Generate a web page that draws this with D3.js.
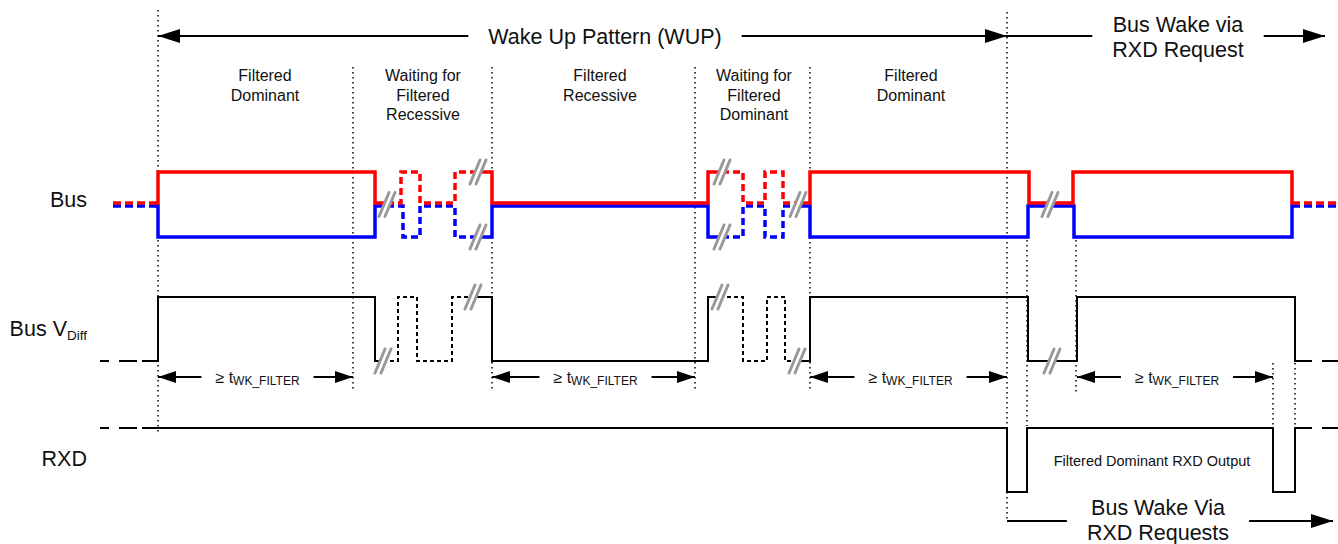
<!DOCTYPE html>
<html>
<head>
<meta charset="utf-8">
<script src="https://d3js.org/d3.v7.min.js"></script>
<style>
  body { margin: 0; background: #fff; }
  svg { display: block; font-family: Arial, "Liberation Sans", Helvetica, sans-serif; fill: #111; }
  .marker { stroke: #000; stroke-width: 1.5; stroke-dasharray: 1.5,3.5; fill: none; }
  .rule { stroke: #000; stroke-width: 2; fill: none; }
  .head { fill: #000; stroke: none; }
  .big { font-size: 21.5px; }
  .phase { font-size: 16px; }
</style>
</head>
<body>
<script>

// step waveforms: [time, level], each level holds until the next point
// kind: solid = real edge, hidden = filtered glitch (dashed), idle = before / after the pattern
var busRed = [
  {kind: "idle",   pts: [[113, 0], [158, 0]]},
  {kind: "solid",  pts: [[155, 0], [158, 1], [375, 0], [387, 0]]},
  {kind: "hidden", pts: [[387, 0], [401, 1], [420, 0], [455, 1], [478, 1]]},
  {kind: "solid",  pts: [[478, 1], [492, 0], [708, 1], [722, 1]]},
  {kind: "hidden", pts: [[722, 1], [743, 0], [765, 1], [783, 0], [798, 0]]},
  {kind: "solid",  pts: [[798, 0], [810, 1], [1029, 0], [1073, 1], [1292, 0], [1300, 0]]},
  {kind: "idle",   pts: [[1304, 0], [1338, 0]]}
];
var busBlue = [
  {kind: "idle",   pts: [[113, 0], [158, 0]]},
  {kind: "solid",  pts: [[155, 0], [158, -1], [375, 0], [387, 0]]},
  {kind: "hidden", pts: [[387, 0], [403, -1], [420, 0], [455, -1], [478, -1]]},
  {kind: "solid",  pts: [[478, -1], [492, 0], [708, -1], [722, -1]]},
  {kind: "hidden", pts: [[722, -1], [743, 0], [765, -1], [783, 0], [798, 0]]},
  {kind: "solid",  pts: [[798, 0], [810, -1], [1028, 0], [1074, -1], [1292, 0], [1300, 0]]},
  {kind: "idle",   pts: [[1304, 0], [1338, 0]]}
];
var vDiff = [
  {kind: "idle",   pts: [[137, 0], [100, 0]]},
  {kind: "solid",  pts: [[142, 0], [158, 1], [375, 0], [383, 0]]},
  {kind: "hidden", pts: [[383, 0], [398, 1], [417, 0], [452, 1], [473, 1]]},
  {kind: "solid",  pts: [[473, 1], [492, 0], [708, 1], [720, 1]]},
  {kind: "hidden", pts: [[720, 1], [743, 0], [767, 1], [785, 0], [797, 0]]},
  {kind: "solid",  pts: [[797, 0], [810, 1], [1028, 0], [1077, 1], [1295, 0], [1312, 0]]},
  {kind: "idle",   pts: [[1322, 0], [1338, 0]]}
];
var rxd = [
  {kind: "idle",  pts: [[137, 1], [100, 1]]},
  {kind: "solid", pts: [[142, 1], [1007, 0], [1027, 1], [1273, 0], [1295, 1], [1312, 1]]},
  {kind: "idle",  pts: [[1322, 1], [1338, 1]]}
];

// time breaks "//": [time, level]
var busBreaks = [[387, 0], [478, 1], [478, -1], [722, 1], [722, -1], [798, 0], [1050, 0]];
var vDiffBreaks = [[383, 0], [473, 1], [720, 1], [797, 0], [1052, 0]];

// dotted time markers
var markers = [
  {t: 158, span: "wup"}, {t: 353, span: "phase"}, {t: 492, span: "phase"},
  {t: 695, span: "phase"}, {t: 810, span: "phase"}, {t: 1007, span: "wake"},
  {t: 1027, span: "edge"}, {t: 1076, span: "edgeShort"},
  {t: 1273, span: "rxd"}, {t: 1295, span: "rxd"}
];

// >= tWK_FILTER spans
var filterSpans = [[158, 353], [492, 695], [810, 1007], [1077, 1273]];

var phaseLabels = [
  {t: 265, lines: ["Filtered", "Dominant"]},
  {t: 423, lines: ["Waiting for", "Filtered", "Recessive"]},
  {t: 600, lines: ["Filtered", "Recessive"]},
  {t: 754, lines: ["Waiting for", "Filtered", "Dominant"]},
  {t: 911, lines: ["Filtered", "Dominant"]}
];

var spanArrows = [
  {t0: 158, t1: 1007, mid: 605, lines: ["Wake Up Pattern (WUP)"], startHead: true, row: "top"},
  {t0: 1007, t1: 1325, mid: 1178, lines: ["Bus Wake via", "RXD Request"], startHead: false, row: "top"},
  {t0: 1007, t1: 1333, mid: 1158, lines: ["Bus Wake Via", "RXD Requests"], startHead: false, row: "bottom"}
];

var W = 1338, H = 544;

var x = d3.scaleLinear().domain([0, 1338]).range([0, W]);
var yRed = d3.scaleLinear().domain([0, 1]).range([203, 172]);
var yBlue = d3.scaleLinear().domain([0, -1]).range([206, 237]);
var yDiff = d3.scaleLinear().domain([0, 1]).range([361, 297]);
var yRxd = d3.scaleLinear().domain([0, 1]).range([492, 428]);

function yBus(l) {
    return l > 0 ? yRed(l) : l < 0 ? yBlue(l) : (yRed(0) + yBlue(0)) / 2;
}

var spanY = {
    wup: [10, 432], phase: [67, 390], wake: [12, 522],
    edge: [240, 426], edgeShort: [240, 393], rxd: [363, 430]
};
// arrow line y and where its text block is centred
var arrowY = {top: {line: 36, text: 44}, bottom: {line: 521, text: 527}};

var svg = d3.select("body").append("svg")
    .attr("width", W)
    .attr("height", H);

// markers go underneath everything
svg.append("g")
    .selectAll("line")
    .data(markers)
    .join("line")
    .attr("class", "marker")
    .attr("x1", function(d) { return x(d.t); })
    .attr("x2", function(d) { return x(d.t); })
    .attr("y1", function(d) { return spanY[d.span][0]; })
    .attr("y2", function(d) { return spanY[d.span][1]; });

function drawWave(pieces, y, color, width, hiddenDash, idleDash) {
    var line = d3.line()
        .x(function(d) { return x(d[0]); })
        .y(function(d) { return y(d[1]); })
        .curve(d3.curveStepAfter);
    svg.append("g")
        .selectAll("path")
        .data(pieces)
        .join("path")
        .attr("d", function(d) { return line(d.pts); })
        .attr("fill", "none")
        .attr("stroke", color)
        .attr("stroke-width", width)
        .attr("stroke-linejoin", "miter")
        .attr("stroke-dasharray", function(d) {
            return d.kind === "hidden" ? hiddenDash : d.kind === "idle" ? idleDash : null;
        });
}

drawWave(busBlue, yBlue, "#0000ff", 3.5, "7,4", "8,4");
drawWave(busRed, yRed, "#ff0000", 3.5, "7,4", "8,4");
drawWave(vDiff, yDiff, "#000", 2, "4,3", "18,10");
drawWave(rxd, yRxd, "#000", 2, "4,3", "18,10");

function drawBreaks(list, y) {
    var g = svg.append("g")
        .selectAll("g")
        .data(list)
        .join("g")
        .attr("transform", function(d) { return "translate(" + x(d[0]) + "," + y(d[1]) + ")"; });
    g.append("path")
        .attr("d", "M-8,12L2,-12L8,-12L-2,12Z")
        .attr("fill", "#fff");
    g.append("path")
        .attr("d", "M-8,12L2,-12M-2,12L8,-12")
        .attr("fill", "none")
        .attr("stroke", "#999")
        .attr("stroke-width", 3)
        .attr("stroke-linecap", "round");
}
drawBreaks(busBreaks, yBus);
drawBreaks(vDiffBreaks, yDiff);

function head(g, tip, y, dir, len, half) {
    g.append("path")
        .attr("class", "head")
        .attr("d", "M" + tip + "," + y + "L" + (tip - dir * len) + "," + (y - half) +
                   "L" + (tip - dir * len) + "," + (y + half) + "Z");
}

// >= tWK_FILTER dimension arrows
var dimY = 377;
filterSpans.forEach(function(s) {
    var g = svg.append("g");
    var a = x(s[0]), b = x(s[1]), mid = (a + b) / 2 + 2;
    var t = g.append("text")
        .attr("x", mid)
        .attr("y", dimY + 6)
        .attr("text-anchor", "middle")
        .style("font-size", "16px");
    t.append("tspan").text("\u2265 t");
    t.append("tspan").attr("dy", 2).style("font-size", "12px").text("WK_FILTER");
    var half = t.node().getComputedTextLength() / 2 + 14;
    g.append("path").attr("class", "rule")
        .attr("d", "M" + a + "," + dimY + "H" + (mid - half) + "M" + (mid + half) + "," + dimY + "H" + b);
    head(g, a, dimY, -1, 18, 6);
    head(g, b, dimY, 1, 18, 6);
});

// long arrows with labels
spanArrows.forEach(function(s) {
    var g = svg.append("g");
    var y = arrowY[s.row].line, ty = arrowY[s.row].text;
    var a = x(s.t0), b = x(s.t1), mid = x(s.mid);
    var n = s.lines.length;
    var widest = 0;
    s.lines.forEach(function(l, i) {
        var t = g.append("text")
            .attr("class", "big")
            .attr("x", mid)
            .attr("y", ty + (i - (n - 1) / 2) * 25)
            .attr("text-anchor", "middle")
            .text(l);
        widest = Math.max(widest, t.node().getComputedTextLength());
    });
    var half = widest / 2 + 20;
    g.append("path").attr("class", "rule")
        .attr("d", "M" + a + "," + y + "H" + (mid - half) + "M" + (mid + half) + "," + y + "H" + b);
    if (s.startHead) head(g, a, y, -1, 22, 7);
    head(g, b, y, 1, 22, 7);
});

// phase captions
phaseLabels.forEach(function(p) {
    var t = svg.append("text")
        .attr("class", "phase")
        .attr("text-anchor", "middle")
        .attr("y", 81);
    p.lines.forEach(function(l, i) {
        t.append("tspan").attr("x", x(p.t)).attr("dy", i ? 19.5 : 0).text(l);
    });
});

// row labels
var labelX = 87;
svg.append("text").attr("class", "big").attr("text-anchor", "end")
    .attr("x", labelX).attr("y", yRed(0) + 4).text("Bus");
var vl = svg.append("text").attr("class", "big").attr("text-anchor", "end")
    .attr("x", labelX).attr("y", (yDiff(0) + yDiff(1)) / 2 + 7);
vl.append("tspan").text("Bus V");
vl.append("tspan").attr("dy", 4).style("font-size", "13.5px").text("Diff");
svg.append("text").attr("class", "big").attr("text-anchor", "end")
    .attr("x", labelX).attr("y", (yRxd(0) + yRxd(1)) / 2 + 6).text("RXD");

svg.append("text")
    .attr("x", x(1152))
    .attr("y", 466)
    .attr("text-anchor", "middle")
    .style("font-size", "14.5px")
    .text("Filtered Dominant RXD Output");

</script>
</body>
</html>
